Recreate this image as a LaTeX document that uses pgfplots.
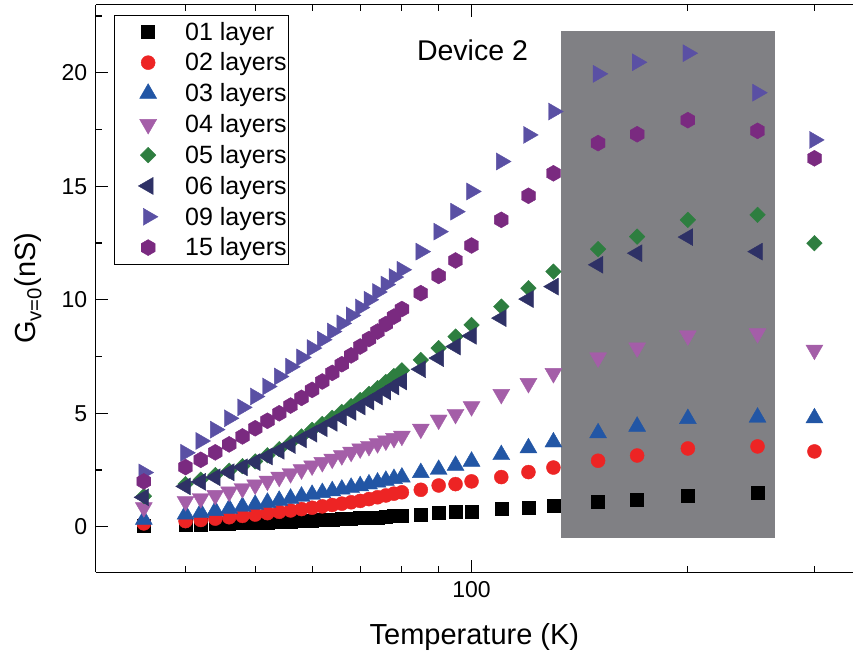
\documentclass[border=0pt]{standalone}
\usepackage{fontspec}
\setmainfont{Liberation Sans}
\usepackage{pgfplots}
\pgfplotsset{compat=1.18}

\definecolor{c02}{RGB}{237,36,36}
\definecolor{c03}{RGB}{34,86,165}
\definecolor{c04}{RGB}{164,94,168}
\definecolor{c05}{RGB}{46,126,64}
\definecolor{c06}{RGB}{46,49,102}
\definecolor{c09}{RGB}{90,80,164}
\definecolor{c15}{RGB}{122,42,128}
\definecolor{boxgray}{RGB}{128,128,132}

\pgfdeclareplotmark{hexagon*}{%
  \pgfpathmoveto{\pgfqpointpolar{90}{\pgfplotmarksize}}%
  \pgfpathlineto{\pgfqpointpolar{150}{\pgfplotmarksize}}%
  \pgfpathlineto{\pgfqpointpolar{210}{\pgfplotmarksize}}%
  \pgfpathlineto{\pgfqpointpolar{270}{\pgfplotmarksize}}%
  \pgfpathlineto{\pgfqpointpolar{330}{\pgfplotmarksize}}%
  \pgfpathlineto{\pgfqpointpolar{30}{\pgfplotmarksize}}%
  \pgfpathclose
  \pgfusepathqfillstroke}

\begin{document}
\begin{tikzpicture}
\begin{axis}[
  name=ax,
  xmode=log,
  scale only axis,
  width=757pt, height=567.4pt,
  xmin=30, xmax=339.5,
  ymin=-2, ymax=23,
  axis x line*=box,
  axis y line*=left,
  axis line style={line width=1.2pt, black},
  tick align=inside,
  major tick length=12pt,
  minor tick length=6pt,
  every tick/.style={line width=1.1pt, black},
  xtick={100}, xticklabels={100},
  minor xtick={40,50,60,70,80,90,200,300},
  ytick={0,5,10,15,20},
  minor ytick={2.5,7.5,12.5,17.5,22.5},
  /pgf/number format/assume math mode=true,
  ticklabel style={font=\fontsize{23}{23}\selectfont},
  yticklabel style={xshift=-5pt},
  xticklabel style={yshift=-6pt},
  xlabel={Temperature (K)},
  ylabel={G\textsubscript{v=0}(nS)},
  label style={font=\fontsize{29}{29}\selectfont},
  xlabel style={yshift=-19pt},
  ylabel style={yshift=13pt},
  legend cell align=left,
  legend style={at={(0,1)}, anchor=north west, xshift=18pt, yshift=-10pt,
    draw=black, line width=0.8pt, font=\fontsize{25}{25}\selectfont,
    row sep=7.2pt, inner xsep=0pt, inner ysep=5pt,
    nodes={inner sep=2pt, text depth=0.15em}},
  legend image code/.code={\path[draw=none,fill=none] (-34pt,-8pt) rectangle (35pt,8pt); \draw[#1,line width=0.4pt] plot coordinates {(0pt,0pt)};},
  every axis plot/.append style={only marks, mark options={line width=0.4pt}},
]
\fill[boxgray] (axis cs:133.2,-0.48) rectangle (axis cs:264.6,21.84);
\node[font=\fontsize{28.5}{28.5}\selectfont] at (axis cs:100.3,21.0) {Device 2};

% 01 layer
\addplot[color=black, mark=square*, mark size=6.5pt] coordinates {
(35,0.03)(40,0.08)(42,0.10)(44,0.12)(46,0.14)(48,0.16)(50,0.18)(52,0.20)(54,0.22)(56,0.24)(58,0.26)
(60,0.28)(62,0.30)(64,0.32)(66,0.34)(68,0.36)(70,0.38)(72,0.40)(74,0.42)(76,0.44)(78,0.47)(80,0.50)
(85,0.53)(90,0.60)(95,0.65)(100,0.68)(110,0.78)(120,0.85)(130,0.94)(150,1.09)(170,1.19)(200,1.37)(250,1.48)};
\addlegendentry{01 layer}
% 02 layers
\addplot[color=c02, mark=*, mark size=7pt] coordinates {
(35,0.15)(40,0.25)(42,0.30)(44,0.36)(46,0.42)(48,0.48)(50,0.54)(52,0.60)(54,0.66)(56,0.72)(58,0.78)
(60,0.84)(62,0.90)(64,0.96)(66,1.02)(68,1.08)(70,1.14)(72,1.22)(74,1.30)(76,1.38)(78,1.46)(80,1.52)
(85,1.63)(90,1.82)(95,1.88)(100,2.00)(110,2.19)(120,2.41)(130,2.61)(150,2.91)(170,3.14)(200,3.45)(250,3.54)(300,3.32)};
\addlegendentry{02 layers}
% 03 layers
\addplot[color=c03, mark=triangle*, mark size=9.8pt] coordinates {
(35,0.32)(40,0.55)(42,0.63)(44,0.71)(46,0.80)(48,0.89)(50,0.98)(52,1.07)(54,1.16)(56,1.25)(58,1.34)
(60,1.42)(62,1.50)(64,1.58)(66,1.65)(68,1.73)(70,1.80)(72,1.88)(74,1.96)(76,2.04)(78,2.12)(80,2.18)
(85,2.38)(90,2.52)(95,2.70)(100,2.88)(110,3.17)(120,3.47)(130,3.73)(150,4.13)(170,4.42)(200,4.76)(250,4.82)(300,4.79)};
\addlegendentry{03 layers}
% 04 layers
\addplot[color=c04, mark=triangle*, mark size=9.8pt, mark options={rotate=180}] coordinates {
(35,0.85)(40,1.12)(42,1.25)(44,1.39)(46,1.54)(48,1.69)(50,1.85)(52,2.02)(54,2.19)(56,2.35)(58,2.52)
(60,2.69)(62,2.84)(64,2.99)(66,3.14)(68,3.29)(70,3.44)(72,3.55)(74,3.67)(76,3.79)(78,3.90)(80,4.00)
(85,4.31)(90,4.71)(95,4.96)(100,5.30)(110,5.84)(120,6.32)(130,6.76)(150,7.45)(170,7.89)(200,8.42)(250,8.52)(300,7.79)};
\addlegendentry{04 layers}
% 05 layers
\addplot[color=c05, mark=square*, mark size=5.5pt, mark options={rotate=45}] coordinates {
(35,1.35)(40,1.88)(42,2.08)(44,2.28)(46,2.47)(48,2.67)(50,2.88)(52,3.15)(54,3.42)(56,3.70)(58,3.98)
(60,4.27)(62,4.53)(64,4.80)(66,5.06)(68,5.32)(70,5.59)(72,5.85)(74,6.11)(76,6.38)(78,6.64)(80,6.89)
(85,7.35)(90,7.87)(95,8.38)(100,8.89)(110,9.70)(120,10.51)(130,11.24)(150,12.23)(170,12.78)(200,13.52)(250,13.74)(300,12.49)};
\addlegendentry{05 layers}
% 06 layers
\addplot[color=c06, mark=triangle*, mark size=9.8pt, mark options={rotate=90}] coordinates {
(35,1.30)(40,1.78)(42,1.98)(44,2.18)(46,2.40)(48,2.62)(50,2.85)(52,3.10)(54,3.35)(56,3.60)(58,3.85)
(60,4.10)(62,4.34)(64,4.58)(66,4.82)(68,5.06)(70,5.30)(72,5.52)(74,5.74)(76,5.96)(78,6.18)(80,6.40)
(85,6.94)(90,7.43)(95,7.94)(100,8.41)(110,9.19)(120,10.03)(130,10.58)(150,11.54)(170,12.05)(200,12.76)(250,12.12)};
\addlegendentry{06 layers}
% 09 layers
\addplot[color=c09, mark=triangle*, mark size=9.8pt, mark options={rotate=-90}] coordinates {
(35,2.39)(40,3.26)(42,3.78)(44,4.28)(46,4.78)(48,5.26)(50,5.74)(52,6.18)(54,6.62)(56,7.05)(58,7.46)
(60,7.87)(62,8.24)(64,8.60)(66,8.96)(68,9.31)(70,9.66)(72,10.00)(74,10.34)(76,10.67)(78,11.00)(80,11.32)
(85,12.12)(90,13.00)(95,13.88)(100,14.77)(110,16.09)(120,17.26)(130,18.29)(150,19.95)(170,20.46)(200,20.86)(250,19.12)(300,17.04)};
\addlegendentry{09 layers}
% 15 layers
\addplot[color=c15, mark=hexagon*, mark size=8pt] coordinates {
(35,2.00)(40,2.63)(42,2.95)(44,3.28)(46,3.63)(48,3.98)(50,4.34)(52,4.67)(54,5.00)(56,5.34)(58,5.68)
(60,6.03)(62,6.40)(64,6.78)(66,7.16)(68,7.55)(70,7.94)(72,8.27)(74,8.60)(76,8.93)(78,9.26)(80,9.59)
(85,10.29)(90,11.05)(95,11.73)(100,12.39)(110,13.52)(120,14.58)(130,15.57)(150,16.90)(170,17.29)(200,17.91)(250,17.44)(300,16.23)};
\addlegendentry{15 layers}
\end{axis}
\pgfresetboundingbox
\path[use as bounding box] ([shift={(-95.7pt,-87pt)}]ax.south west) rectangle ([shift={(0pt,4.6pt)}]ax.north east);
\end{tikzpicture}
\end{document}
